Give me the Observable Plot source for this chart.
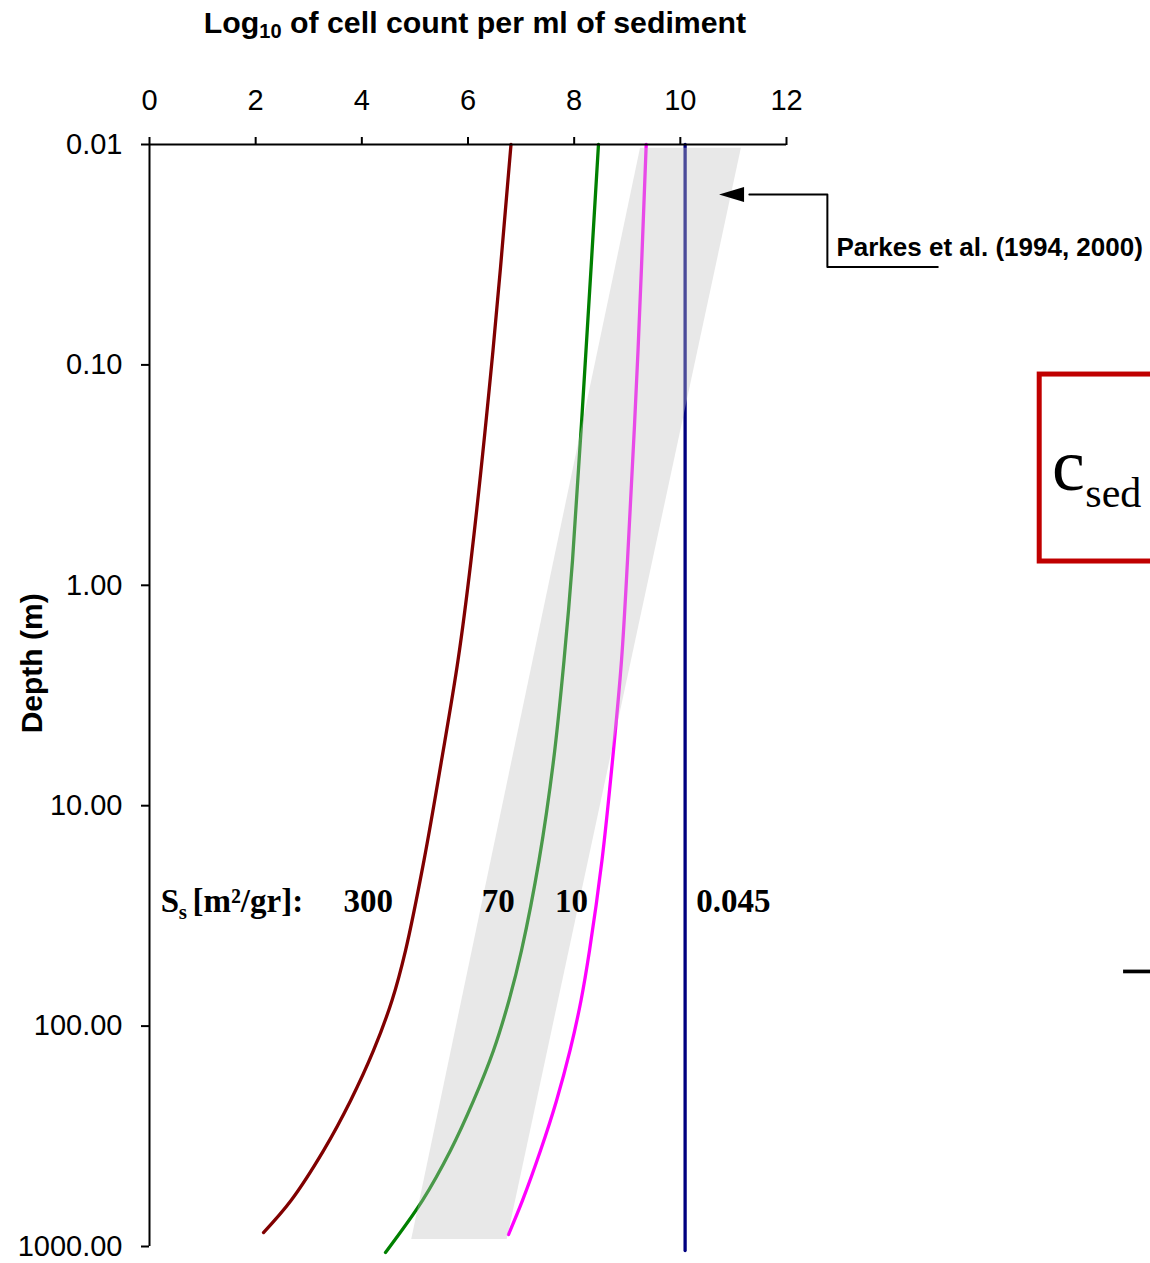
<!DOCTYPE html>
<html><head><meta charset="utf-8">
<script src="https://cdn.jsdelivr.net/npm/d3@7"></script>
<script src="https://cdn.jsdelivr.net/npm/@observablehq/plot@0.6"></script>
<style>
html,body{margin:0;padding:0;background:#fff;overflow:hidden;}
#title{width:950px;height:45px;line-height:45px;text-align:center;font-family:"Liberation Sans",Arial,sans-serif;font-weight:bold;font-size:30.3px;color:#000;white-space:nowrap;}
#title sub{font-size:20px;vertical-align:-5px;line-height:0;}
</style></head><body>
<div id="title">Log<sub>10</sub> of cell count per ml of sediment</div>
<div id="chart"></div>
<script>
// Specific surface area S_s [m2/gr] of each modelled curve
const seriesSs = ["300", "70", "10", "0.045"];
const seriesColors = ["#800000", "#008000", "#ff00ff", "#000080"];

// Depth (m) and log10 cell count per ml of sediment
const depth300 = [0.01, 0.086, 0.77, 2.19, 6.24, 17.7, 45.4, 76.5, 129, 218, 367, 618, 864];
const cells300 = [6.810, 6.471, 6.057, 5.812, 5.501, 5.171, 4.823, 4.568, 4.220, 3.787, 3.278, 2.666, 2.148];
const depth70 = [0.01, 0.086, 0.77, 2.19, 6.24, 17.7, 45.4, 76.5, 129, 218, 367, 618, 1065];
const cells70 = [8.458, 8.223, 7.969, 7.809, 7.611, 7.338, 7.008, 6.772, 6.480, 6.104, 5.670, 5.143, 4.446];
const depth10 = [0.01, 0.086, 0.77, 2.19, 6.24, 17.7, 45.4, 76.5, 129, 218, 367, 618, 882];
const cells10 = [9.357, 9.203, 9.005, 8.892, 8.722, 8.524, 8.289, 8.129, 7.922, 7.667, 7.366, 7.027, 6.763];
const depth0045 = [0.01, 1043];
const cells0045 = [10.09, 10.09];

// Parkes et al. (1994, 2000) observed range (grey band)
const parkesDepth = [0.0104, 930];
const parkesLow = [9.25, 4.94];
const parkesHigh = [11.15, 6.74];

// Axis ticks
const xTicks = [0, 2, 4, 6, 8, 10, 12];
const yTicks = [0.01, 0.1, 1, 10, 100, 1000];

// Texts
const yLabel = "Depth (m)";
const parkesLabel = "Parkes et al. (1994, 2000)";
const boxMain = "c";
const boxSub = "sed";

// ---- build tables ----
const seriesData = [[depth300, cells300], [depth70, cells70], [depth10, cells10], [depth0045, cells0045]];
const lineRows = [];
seriesData.forEach(([ds, cs], i) => ds.forEach((d, j) => lineRows.push({s: seriesSs[i], d, v: cs[j]})));
const bandRows = parkesDepth.map((d, i) => ({d, lo: parkesLow[i], hi: parkesHigh[i]}));

// annotation anchors (data coordinates)
const ssLabelX = [4.12, 6.57, 7.95, 11.0];
const ssLabelRows = seriesSs.map((s, i) => ({s, x: ssLabelX[i]}));
const arrowPath = [{x: 14.85, y: 0.036}, {x: 12.77, y: 0.036}, {x: 12.77, y: 0.01687}, {x: 11.3, y: 0.01687}];
const headSymbol = {draw(ctx) { ctx.moveTo(-25, 0); ctx.lineTo(0, -7.5); ctx.lineTo(0, 7.5); ctx.closePath(); }};

const serif = '"Liberation Serif", "Times New Roman", serif';
const sans = '"Liberation Sans", Arial, sans-serif';

const chart = Plot.plot({
  width: 1150, height: 1218,
  marginTop: 99, marginBottom: 17, marginLeft: 149, marginRight: 364,
  style: {fontFamily: sans, fontSize: "29px", color: "#000", background: "#fff"},
  x: {domain: [0, 12]},
  y: {type: "log", domain: [0.01, 1000], reverse: true},
  color: {domain: seriesSs, range: seriesColors},
  marks: [
    Plot.line(lineRows, {x: "v", y: "d", z: "s", stroke: "s", strokeWidth: 3.3, curve: "catmull-rom"}),
    Plot.areaX(bandRows, {y: "d", x1: "lo", x2: "hi", fill: "rgb(195,195,195)", fillOpacity: 0.38}),
    Plot.ruleY([0.01], {x1: 0, x2: 12, stroke: "#000", strokeWidth: 2}),
    Plot.ruleX([0], {y1: 0.01, y2: 1000, stroke: "#000", strokeWidth: 2}),
    Plot.axisX({anchor: "top", ticks: xTicks, tickSize: 8, tickPadding: 27, strokeWidth: 2, label: null, fontSize: 29}),
    Plot.axisY({anchor: "left", ticks: yTicks, tickFormat: d => d.toFixed(2), tickSize: 8, tickPadding: 19, strokeWidth: 2, label: null, fontSize: 29}),
    Plot.text([yLabel], {x: -2.2, y: 2.26, text: d => d, rotate: -90, fontWeight: "bold", fontSize: 30, fontFamily: sans}),
    // S_s labels
    Plot.text(["S"], {x: 0.21, y: 30.5, text: d => d, fontFamily: serif, fontWeight: "bold", fontSize: 33, textAnchor: "start", lineAnchor: "bottom"}),
    Plot.text(["s"], {x: 0.55, y: 32.5, text: d => d, fontFamily: serif, fontWeight: "bold", fontSize: 21, textAnchor: "start", lineAnchor: "bottom"}),
    Plot.text(["[m\u00B2/gr]:"], {x: 0.81, y: 30.5, text: d => d, fontFamily: serif, fontWeight: "bold", fontSize: 33, textAnchor: "start", lineAnchor: "bottom"}),
    Plot.text(ssLabelRows, {x: "x", y: () => 30.5, text: "s", fontFamily: serif, fontWeight: "bold", fontSize: 33, lineAnchor: "bottom"}),
    // Parkes annotation
    Plot.line(arrowPath, {x: "x", y: "y", stroke: "#000", strokeWidth: 2}),
    Plot.dot([arrowPath[3]], {x: () => 11.2, y: "y", symbol: headSymbol, r: 8, fill: "#000", stroke: "none"}),
    Plot.text([parkesLabel], {x: 12.94, y: 0.0319, text: d => d, fontWeight: "bold", fontSize: 26, fontFamily: sans, textAnchor: "start", lineAnchor: "bottom"}),
    // red box with c_sed
    Plot.rect([0], {x1: 16.77, x2: 18.95, y1: 0.1106, y2: 0.780, stroke: "#c00000", strokeWidth: 5, fill: "none"}),
    Plot.text([boxMain], {x: 17.0, y: 0.3714, text: d => d, fontFamily: serif, fontSize: 74, textAnchor: "start", lineAnchor: "bottom"}),
    Plot.text([boxSub], {x: 17.63, y: 0.4436, text: d => d, fontFamily: serif, fontSize: 42, textAnchor: "start", lineAnchor: "bottom"}),
    Plot.ruleY([56.5], {x1: 18.35, x2: 18.95, stroke: "#000", strokeWidth: 3.7})
  ]
});
document.getElementById("chart").appendChild(chart);
</script>
</body></html>
